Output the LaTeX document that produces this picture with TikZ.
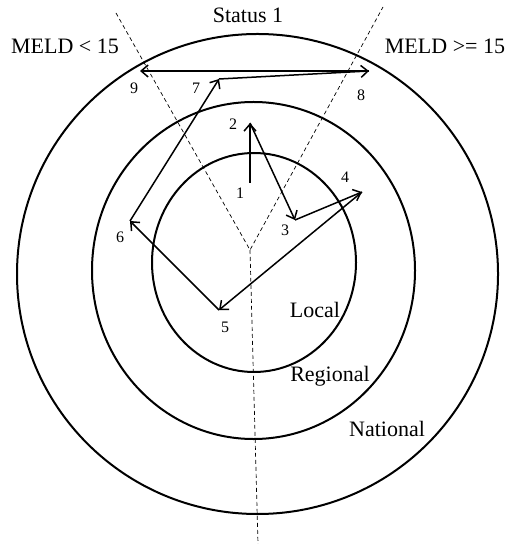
\documentclass[tikz,border=0pt]{standalone}
\usepackage{fontspec}
\setmainfont{Liberation Serif}
\usepackage{tikz}
\usetikzlibrary{arrows.meta}

\begin{document}
\begin{tikzpicture}[x=0.5pt,y=-0.5pt,>={Straight Barb[length=3.5pt,width=6pt]},
  ring/.style={line width=1pt},
  sector/.style={dashed,line width=0.35pt,dash pattern=on 2pt off 1.5pt},
  move/.style={->,line width=0.75pt},
  zone/.style={inner sep=0pt,font=\fontsize{11}{13}\selectfont},
  step num/.style={inner sep=0pt,font=\fontsize{8}{10}\selectfont}]
\useasboundingbox (0,0) rectangle (510,544);

% allocation rings
\draw[ring] (257.5,274) circle [x radius=240.5, y radius=240];
\draw[ring] (253.5,270.5) circle [x radius=161.5, y radius=168.5];
\draw[ring] (254,262.5) circle [x radius=102, y radius=109.5];

% sectors
\coordinate (V) at (250,250);
\coordinate (SL) at (116,13);
\coordinate (SR) at (383,7);
\coordinate (SB) at (258,544);
\draw[sector] (SL) -- (V) -- (SR);
\draw[sector] (V) -- (SB);

\node[zone] (st) at (248,15) {Status 1};
\node[zone] (lo) at (65,46) {MELD < 15};
\node[zone] (hi) at (445,46) {MELD >= 15};
\node[zone] (loc) at (315,310) {Local};
\node[zone] (reg) at (330,376) {Regional};
\node[zone] (nat) at (387,429) {National};

% offer sequence
\coordinate (p1) at (250,183);
\coordinate (p2) at (250,123);
\coordinate (p3) at (295,220);
\coordinate (p4) at (362,192);
\coordinate (p5) at (219,310);
\coordinate (p6) at (130,221);
\coordinate (p7) at (219,79);
\coordinate (p8) at (369,71);
\coordinate (p9) at (140,71);

\draw[move] (p1) -- (p2);
\draw[move] (p2) -- (p3);
\draw[move] (p3) -- (p4);
\draw[move] (p4) -- (p5);
\draw[move] (p5) -- (p6);
\draw[move] (p6) -- (p7);
\draw[move] (p7) -- (p8);
\draw[move] (p8) -- (p9);

\node[step num] (n1) at (240,193) {1};
\node[step num] (n2) at (233,124) {2};
\node[step num] (n3) at (285,230) {3};
\node[step num] (n4) at (345,177) {4};
\node[step num] (n5) at (225,327) {5};
\node[step num] (n6) at (120,237) {6};
\node[step num] (n7) at (196,88) {7};
\node[step num] (n8) at (361,95) {8};
\node[step num] (n9) at (134,88) {9};
\end{tikzpicture}
\end{document}
